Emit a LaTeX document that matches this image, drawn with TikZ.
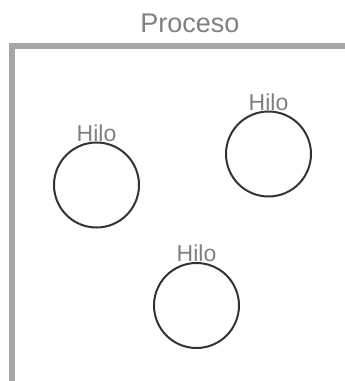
\documentclass[tikz,border=0pt]{standalone}
\usepackage{fontspec}
\setmainfont{Liberation Sans}
\usetikzlibrary{positioning}

\definecolor{grismarco}{HTML}{A6A6A6}
\definecolor{gristexto}{HTML}{808080}
\definecolor{trazo}{HTML}{333333}

\tikzset{
	marco/.style={draw=grismarco, line width=6pt},
	hilo/.style={circle, draw=trazo, line width=2pt, minimum size=85pt, inner sep=0pt},
	etiqueta/.style={text=gristexto, font=\fontsize{23}{27}\selectfont, inner sep=0pt},
}

\begin{document}
\begin{tikzpicture}[x=1pt, y=-1pt]
	\useasboundingbox (0,0) rectangle (345,381);
	
	% ------------------ proceso: marco y titulo ------------------
	\node[etiqueta, font=\fontsize{27}{32}\selectfont, anchor=base] (proceso) at (190, 32) {Proceso};
	\coordinate (abajo) at (12, 381);
	\coordinate (esquina) at (12, 46);
	\coordinate (derecha) at (345, 46);
	\draw[marco] (abajo) -- (esquina) -- (derecha);
	
	% ------------------ hilos ------------------
	\node[hilo] (hilo1) at (96.5, 185) {};
	\node[etiqueta, above=0pt of hilo1] (txt1) {Hilo};
	
	\node[hilo] (hilo2) at (268.5, 154) {};
	\node[etiqueta, above=0pt of hilo2] (txt2) {Hilo};
	
	\node[hilo] (hilo3) at (196.5, 305.5) {};
	\node[etiqueta, above=0pt of hilo3] (txt3) {Hilo};
\end{tikzpicture}
\end{document}
